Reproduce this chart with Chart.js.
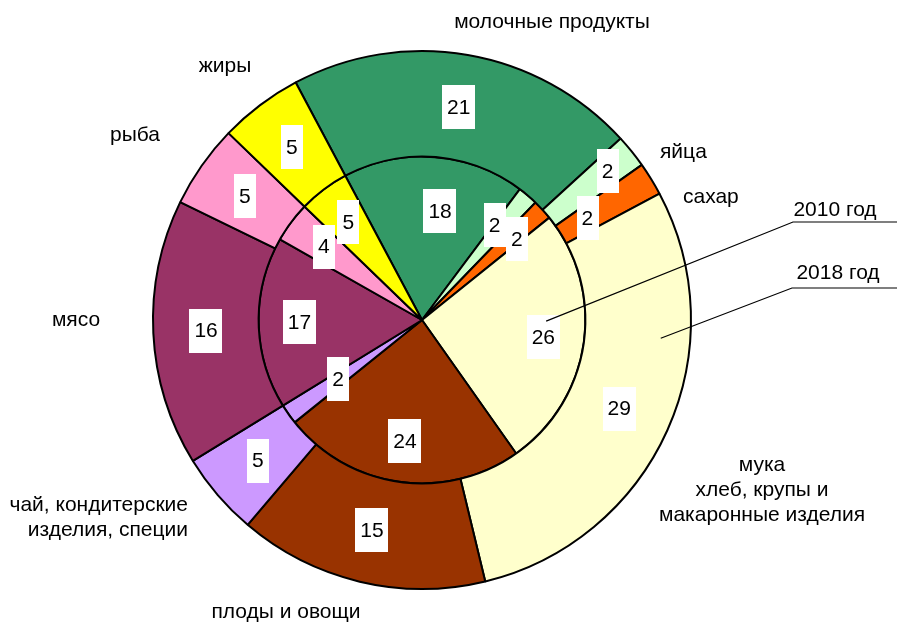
<!DOCTYPE html>
<html lang="ru">
<head>
<meta charset="UTF-8">
<title>Структура потребления продуктов питания</title>
<script src="https://cdn.jsdelivr.net/npm/chart.js"></script>
<style>
  html, body { margin: 0; padding: 0; background: #fff; }
  #wrap { width: 897px; height: 626px; }
</style>
</head>
<body>
<div id="wrap"><canvas id="pie" width="897" height="626"></canvas></div>
<script>
// Категории (по часовой стрелке)
const categories = [
  'молочные продукты', 'яйца', 'сахар', 'мука хлеб, крупы и макаронные изделия',
  'плоды и овощи', 'чай, кондитерские изделия, специи', 'мясо', 'рыба', 'жиры'
];
// Доли, %
const values2018 = [21, 2, 2, 29, 15, 5, 16, 5, 5];
const values2010 = [18, 2, 2, 26, 24, 2, 17, 4, 5];
const colors = ['#339966', '#CCFFCC', '#FF6600', '#FFFFCC', '#993300', '#CC99FF', '#993366', '#FF99CC', '#FFFF00'];

const FONT = '21px "Liberation Sans", Arial, sans-serif';

// подписи категорий вокруг диаграммы: строки, x, y, выравнивание
const outsideLabels = [
  { lines: ['молочные продукты'], x: 552, y: 22, align: 'center' },
  { lines: ['яйца'], x: 660, y: 152, align: 'left' },
  { lines: ['сахар'], x: 683, y: 197, align: 'left' },
  { lines: ['мука', 'хлеб, крупы и', 'макаронные изделия'], x: 762, y: 465, align: 'center' },
  { lines: ['плоды и овощи'], x: 286, y: 612, align: 'center' },
  { lines: ['чай, кондитерские', 'изделия, специи'], x: 188, y: 505, align: 'right' },
  { lines: ['мясо'], x: 76, y: 320, align: 'center' },
  { lines: ['рыба'], x: 135, y: 135, align: 'center' },
  { lines: ['жиры'], x: 225, y: 66, align: 'center' }
];

// сдвиг подписей маленьких секторов: по радиусу (px) и по углу (град.)
const outerNudge = { 1: [22, 0], 2: [-22, 0] };
const innerNudge = { 0: [-12, 5], 1: [-3, -3], 2: [2, 2], 5: [-20, 0] };

const labelsPlugin = {
  id: 'pieLabels',
  afterDatasetsDraw(chart) {
    const ctx = chart.ctx;
    ctx.save();
    ctx.font = FONT;
    ctx.textBaseline = 'middle';

    // значения в белых рамках
    chart.data.datasets.forEach((ds, di) => {
      const meta = chart.getDatasetMeta(di);
      const nudge = di === 0 ? outerNudge : innerNudge;
      meta.data.forEach((arc, i) => {
        const p = arc.getProps(['x', 'y', 'startAngle', 'endAngle', 'innerRadius', 'outerRadius'], true);
        const [dr, da] = nudge[i] || [0, 0];
        const mid = (p.startAngle + p.endAngle) / 2 + da * Math.PI / 180;
        const r = (di === 0
          ? (p.innerRadius + p.outerRadius) / 2
          : p.outerRadius * 0.75) + dr;
        const x = p.x + Math.cos(mid) * r;
        const y = p.y + Math.sin(mid) * r;
        const txt = String(ds.data[i]);
        const w = ctx.measureText(txt).width + 10;
        const h = 44;
        ctx.fillStyle = '#fff';
        ctx.fillRect(Math.round(x - w / 2), Math.round(y - h / 2), Math.round(w), h);
        ctx.fillStyle = '#000';
        ctx.textAlign = 'center';
        ctx.fillText(txt, x, y + 1);
      });
    });

    // названия категорий
    ctx.fillStyle = '#000';
    outsideLabels.forEach(l => {
      ctx.textAlign = l.align;
      l.lines.forEach((s, k) => ctx.fillText(s, l.x, l.y + k * 25));
    });

    // выноски "2010 год" / "2018 год" к сектору муки
    const inner = chart.getDatasetMeta(1).data[3];
    const outer = chart.getDatasetMeta(0).data[3];
    const cx = inner.x, cy = inner.y;
    const pt = (arc, frac, a) => {
      const ang = arc.startAngle + (arc.endAngle - arc.startAngle) * a;
      const rr = arc.innerRadius + (arc.outerRadius - arc.innerRadius) * frac;
      return [cx + Math.cos(ang) * rr, cy + Math.sin(ang) * rr];
    };
    const p10 = pt(inner, 0.76, 0.42);
    const p18 = pt(outer, 0.72, 0.31);
    ctx.strokeStyle = '#000';
    ctx.lineWidth = 1.2;
    ctx.beginPath();
    ctx.moveTo(p10[0], p10[1]); ctx.lineTo(793, 222); ctx.lineTo(897, 222);
    ctx.moveTo(p18[0], p18[1]); ctx.lineTo(792, 288); ctx.lineTo(897, 288);
    ctx.stroke();
    ctx.textAlign = 'center';
    ctx.fillText('2010 год', 835, 210);
    ctx.fillText('2018 год', 838, 273);
    ctx.restore();
  }
};

new Chart(document.getElementById('pie'), {
  type: 'pie',
  data: {
    labels: categories,
    datasets: [
      { label: '2018 год', data: values2018, backgroundColor: colors, borderColor: '#000', borderWidth: 2, weight: 106 },
      { label: '2010 год', data: values2010, backgroundColor: colors, borderColor: '#000', borderWidth: 2, weight: 164 }
    ]
  },
  options: {
    responsive: false,
    animation: false,
    rotation: -28,
    layout: { padding: { left: 152, right: 205, top: 50, bottom: 36 } },
    plugins: {
      legend: { display: false },
      tooltip: { enabled: false }
    }
  },
  plugins: [labelsPlugin]
});
</script>
</body>
</html>
